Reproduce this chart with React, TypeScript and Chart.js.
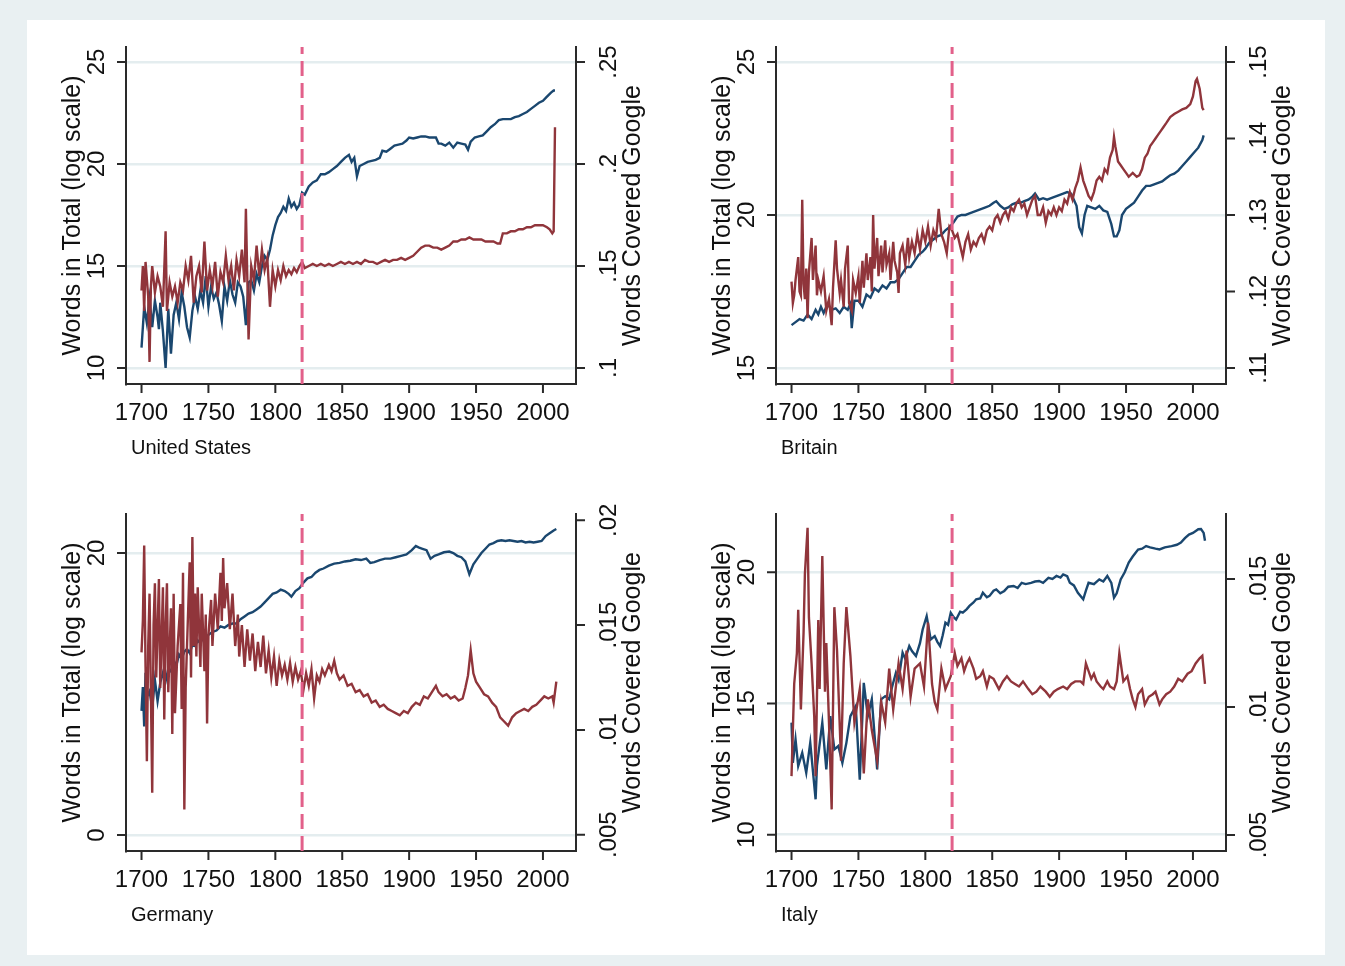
import React, { useEffect, useRef } from "react";
import { Chart, registerables } from "chart.js";

Chart.register(...registerables);

const FONT = '"Liberation Sans", Arial, Helvetica, sans-serif';

// ---------- data (year, value) ----------
const breakYear = 1820;
const xTickYears = [1700, 1750, 1800, 1850, 1900, 1950, 2000];

const usTotal: [number, number][] = [
  [1700, 11.0], [1702, 13.0], [1704, 12.2], [1706, 13.4], [1708, 12.0], [1710, 13.3], [1712, 12.5], [1713, 11.9], [1714, 13.2], [1716, 11.8],
  [1718, 10.0], [1720, 12.9], [1722, 10.7], [1724, 12.6], [1726, 13.2], [1728, 12.4], [1730, 13.7], [1732, 13.0], [1734, 12.0], [1736, 11.5],
  [1738, 12.8], [1740, 13.5], [1742, 12.9], [1744, 13.8], [1746, 13.2], [1748, 14.5], [1750, 13.0], [1752, 14.0], [1754, 13.4], [1756, 13.7],
  [1758, 13.1], [1760, 12.3], [1762, 14.0], [1764, 13.3], [1766, 14.3], [1768, 13.6], [1770, 13.2], [1772, 14.2], [1774, 14.0], [1776, 13.5],
  [1778, 12.1], [1780, 14.2], [1782, 14.3], [1784, 13.8], [1786, 14.6], [1788, 14.2], [1790, 15.0], [1792, 15.5], [1794, 15.3], [1796, 15.8],
  [1798, 16.5], [1800, 17.0], [1802, 17.4], [1804, 17.6], [1806, 17.9], [1808, 17.7], [1810, 18.3], [1812, 17.9], [1814, 18.1], [1816, 17.8],
  [1818, 18.0], [1820, 18.6], [1822, 18.5], [1825, 18.9], [1828, 19.1], [1831, 19.2], [1834, 19.5], [1837, 19.5], [1840, 19.6], [1843, 19.75],
  [1846, 19.9], [1849, 20.1], [1852, 20.3], [1855, 20.45], [1857, 20.1], [1859, 20.3], [1861, 19.4], [1863, 19.9], [1866, 20.0], [1869, 20.1],
  [1872, 20.15], [1875, 20.2], [1878, 20.3], [1880, 20.65], [1883, 20.6], [1886, 20.75], [1889, 20.9], [1892, 20.95], [1895, 21.0], [1898, 21.15],
  [1900, 21.3], [1903, 21.25], [1906, 21.3], [1909, 21.35], [1912, 21.35], [1915, 21.3], [1918, 21.3], [1920, 21.3], [1922, 21.0], [1924, 21.0],
  [1927, 20.9], [1930, 21.05], [1933, 20.8], [1936, 21.05], [1939, 21.0], [1942, 20.95], [1944, 20.7], [1946, 21.1], [1949, 21.3], [1952, 21.35],
  [1955, 21.4], [1958, 21.6], [1961, 21.8], [1964, 21.95], [1967, 22.15], [1970, 22.2], [1973, 22.2], [1976, 22.2], [1979, 22.3], [1982, 22.35],
  [1985, 22.45], [1988, 22.55], [1991, 22.7], [1994, 22.85], [1997, 23.0], [2000, 23.1], [2003, 23.3], [2006, 23.5], [2008, 23.6], [2009, 23.6],
];

const usGoogle: [number, number][] = [
  [1700, .138], [1701, .150], [1702, .128], [1703, .152], [1705, .135], [1706, .103], [1707, .140], [1708, .150], [1710, .137], [1712, .145],
  [1714, .140], [1716, .130], [1718, .167], [1719, .128], [1721, .142], [1723, .135], [1725, .140], [1727, .132], [1729, .142], [1731, .138],
  [1733, .150], [1735, .143], [1737, .155], [1739, .132], [1741, .145], [1743, .150], [1745, .137], [1747, .162], [1749, .138], [1751, .148],
  [1753, .140], [1755, .152], [1757, .135], [1759, .147], [1761, .142], [1763, .155], [1765, .143], [1767, .150], [1769, .138], [1771, .153],
  [1773, .145], [1775, .158], [1777, .142], [1778, .178], [1780, .114], [1782, .150], [1784, .143], [1786, .160], [1788, .145], [1790, .158],
  [1792, .148], [1794, .154], [1796, .130], [1798, .148], [1800, .140], [1802, .148], [1804, .143], [1806, .150], [1808, .145], [1810, .148],
  [1812, .146], [1814, .149], [1816, .147], [1818, .150], [1820, .152], [1822, .149], [1825, .150], [1828, .151], [1831, .150], [1834, .151],
  [1837, .150], [1840, .151], [1843, .150], [1846, .151], [1849, .152], [1852, .151], [1855, .152], [1858, .151], [1861, .152], [1864, .151],
  [1867, .153], [1870, .152], [1873, .152], [1876, .151], [1879, .152], [1882, .153], [1885, .152], [1888, .153], [1891, .153], [1894, .154],
  [1897, .153], [1900, .154], [1903, .155], [1906, .157], [1909, .159], [1912, .160], [1915, .160], [1918, .159], [1921, .159], [1924, .158],
  [1927, .159], [1930, .160], [1933, .162], [1936, .162], [1939, .163], [1942, .163], [1945, .164], [1948, .163], [1951, .163], [1954, .163],
  [1957, .162], [1960, .162], [1963, .162], [1966, .161], [1968, .161], [1970, .166], [1973, .166], [1976, .167], [1979, .167], [1982, .168],
  [1985, .168], [1988, .169], [1991, .169], [1994, .170], [1997, .170], [2000, .170], [2003, .169], [2005, .168], [2007, .166], [2008, .167],
  [2009, .218],
];

const britainTotal: [number, number][] = [
  [1700, 16.4], [1703, 16.5], [1706, 16.6], [1709, 16.55], [1712, 16.75], [1715, 16.6], [1718, 16.9], [1720, 16.75], [1722, 17.0], [1724, 16.8],
  [1727, 17.1], [1730, 16.9], [1733, 16.95], [1736, 16.8], [1739, 17.0], [1742, 16.9], [1744, 17.1], [1745, 16.3], [1747, 17.2], [1750, 17.2],
  [1753, 17.0], [1756, 17.4], [1759, 17.3], [1762, 17.6], [1765, 17.5], [1768, 17.7], [1771, 17.6], [1774, 17.8], [1777, 17.8], [1780, 17.9],
  [1783, 18.1], [1786, 18.3], [1789, 18.3], [1792, 18.5], [1795, 18.7], [1798, 18.8], [1800, 18.9], [1803, 19.1], [1806, 19.2], [1809, 19.3],
  [1812, 19.35], [1815, 19.5], [1818, 19.6], [1821, 19.75], [1824, 19.95], [1827, 20.0], [1830, 20.0], [1833, 20.05], [1836, 20.1], [1839, 20.15],
  [1842, 20.2], [1845, 20.25], [1848, 20.3], [1851, 20.4], [1853, 20.45], [1856, 20.3], [1859, 20.2], [1862, 20.25], [1865, 20.35], [1868, 20.4],
  [1871, 20.4], [1874, 20.45], [1877, 20.5], [1880, 20.6], [1882, 20.7], [1885, 20.5], [1888, 20.55], [1891, 20.5], [1894, 20.55], [1897, 20.6],
  [1900, 20.65], [1903, 20.7], [1906, 20.75], [1909, 20.7], [1911, 20.5], [1913, 20.3], [1915, 19.6], [1917, 19.4], [1919, 20.0], [1921, 20.3],
  [1924, 20.25], [1927, 20.2], [1930, 20.3], [1933, 20.15], [1936, 20.1], [1939, 19.7], [1941, 19.3], [1943, 19.3], [1945, 19.5], [1947, 20.0],
  [1950, 20.2], [1953, 20.3], [1956, 20.4], [1959, 20.6], [1962, 20.8], [1965, 20.95], [1968, 20.95], [1971, 21.0], [1974, 21.05], [1977, 21.1],
  [1980, 21.2], [1983, 21.3], [1986, 21.35], [1989, 21.45], [1992, 21.6], [1995, 21.75], [1998, 21.9], [2001, 22.05], [2004, 22.2], [2007, 22.45],
  [2008, 22.6],
];

const britainGoogle: [number, number][] = [
  [1700, .1213], [1701, .1185], [1702, .1195], [1703, .1215], [1705, .1245], [1706, .1200], [1707, .1195], [1708, .1320], [1709, .1210], [1710, .1190],
  [1711, .1230], [1712, .1165], [1713, .1225], [1715, .1270], [1716, .1215], [1718, .1260], [1719, .1195], [1720, .1215], [1722, .1200], [1724, .1220],
  [1726, .1175], [1728, .1190], [1730, .1156], [1731, .1205], [1733, .1267], [1734, .1230], [1736, .1198], [1737, .1215], [1739, .1180], [1740, .1230],
  [1742, .1260], [1743, .1185], [1745, .1175], [1746, .1215], [1748, .1198], [1750, .1220], [1751, .1185], [1753, .1240], [1754, .1205], [1756, .1250],
  [1757, .1215], [1759, .1245], [1760, .1200], [1761, .1300], [1762, .1230], [1764, .1270], [1765, .1220], [1767, .1260], [1768, .1225], [1770, .1267],
  [1771, .1235], [1773, .1250], [1774, .1215], [1776, .1265], [1777, .1240], [1779, .1225], [1780, .1198], [1781, .1250], [1783, .1260], [1785, .1235],
  [1787, .1270], [1788, .1245], [1790, .1265], [1792, .1250], [1794, .1275], [1796, .1255], [1798, .1280], [1800, .1265], [1802, .1285], [1804, .1260],
  [1806, .1280], [1808, .1270], [1810, .1308], [1812, .1275], [1814, .1265], [1816, .1250], [1818, .1285], [1820, .1280], [1822, .1270], [1824, .1275],
  [1826, .1260], [1828, .1245], [1830, .1265], [1832, .1275], [1834, .1255], [1836, .1265], [1838, .1260], [1840, .1270], [1842, .1275], [1844, .1265],
  [1846, .1280], [1848, .1285], [1850, .1280], [1852, .1295], [1854, .1300], [1856, .1290], [1858, .1300], [1860, .1305], [1862, .1295], [1864, .1310],
  [1866, .1305], [1868, .1315], [1870, .1320], [1872, .1310], [1874, .1315], [1876, .1300], [1878, .1310], [1880, .1320], [1882, .1325], [1884, .1300],
  [1886, .1300], [1888, .1310], [1890, .1290], [1892, .1305], [1894, .1300], [1896, .1310], [1898, .1300], [1900, .1310], [1902, .1305], [1904, .1320],
  [1906, .1315], [1908, .1330], [1910, .1320], [1912, .1335], [1914, .1345], [1916, .1362], [1918, .1345], [1920, .1335], [1922, .1325], [1924, .1320],
  [1926, .1330], [1928, .1345], [1930, .1350], [1932, .1345], [1934, .1360], [1936, .1355], [1938, .1375], [1940, .1385], [1941, .1402], [1942, .1390],
  [1944, .1370], [1946, .1365], [1948, .1360], [1950, .1355], [1952, .1350], [1955, .1355], [1958, .1350], [1960, .1352], [1962, .1360], [1964, .1375],
  [1966, .1380], [1968, .1390], [1970, .1395], [1972, .1400], [1974, .1405], [1976, .1410], [1978, .1415], [1980, .1420], [1983, .1428], [1986, .1432],
  [1989, .1435], [1992, .1438], [1995, .1440], [1998, .1445], [2000, .1455], [2002, .1475], [2003, .1478], [2005, .1465], [2007, .1440], [2008, .1437],
];

const germanyTotal: [number, number][] = [
  [1700, 8.8], [1701, 10.5], [1702, 7.7], [1703, 11.5], [1704, 9.8], [1706, 10.2], [1708, 9.0], [1710, 11.0], [1712, 9.5], [1714, 10.8],
  [1716, 11.5], [1718, 10.9], [1720, 11.8], [1722, 11.6], [1724, 12.4], [1726, 12.0], [1728, 12.8], [1730, 12.5], [1732, 13.0], [1734, 13.2],
  [1736, 12.9], [1738, 13.5], [1740, 13.4], [1742, 13.8], [1744, 13.6], [1746, 14.0], [1748, 13.9], [1750, 14.2], [1753, 14.4], [1756, 14.5],
  [1759, 14.8], [1762, 14.7], [1765, 14.9], [1768, 15.0], [1771, 15.0], [1774, 15.3], [1777, 15.5], [1780, 15.7], [1783, 15.8], [1786, 16.0],
  [1789, 16.2], [1792, 16.5], [1795, 16.8], [1798, 17.1], [1801, 17.2], [1804, 17.4], [1807, 17.3], [1810, 17.1], [1812, 16.9], [1815, 17.3],
  [1818, 17.5], [1821, 17.9], [1824, 18.2], [1827, 18.3], [1830, 18.6], [1833, 18.8], [1836, 18.9], [1840, 19.1], [1844, 19.25], [1848, 19.3],
  [1852, 19.4], [1856, 19.45], [1860, 19.55], [1864, 19.5], [1868, 19.6], [1871, 19.3], [1874, 19.35], [1878, 19.5], [1882, 19.6], [1886, 19.6],
  [1890, 19.7], [1894, 19.8], [1898, 19.9], [1902, 20.2], [1905, 20.5], [1907, 20.4], [1910, 20.3], [1913, 20.2], [1916, 19.6], [1919, 19.8],
  [1922, 19.9], [1926, 20.05], [1930, 20.1], [1933, 20.0], [1936, 19.8], [1939, 19.7], [1942, 19.4], [1945, 18.5], [1948, 19.2], [1951, 19.6],
  [1954, 20.0], [1957, 20.3], [1960, 20.6], [1963, 20.7], [1966, 20.85], [1969, 20.9], [1972, 20.85], [1975, 20.9], [1978, 20.85], [1981, 20.8],
  [1984, 20.85], [1987, 20.75], [1990, 20.8], [1993, 20.75], [1996, 20.8], [1999, 20.85], [2002, 21.2], [2005, 21.4], [2008, 21.6], [2010, 21.7],
];

const germanyGoogle: [number, number][] = [
  [1700, .0137], [1701, .0152], [1702, .0188], [1703, .0130], [1704, .0085], [1705, .0140], [1706, .0165], [1707, .0118], [1708, .0070], [1709, .0150],
  [1710, .0170], [1711, .0125], [1712, .0148], [1713, .0172], [1714, .0120], [1716, .0168], [1717, .0105], [1718, .0150], [1719, .0170], [1720, .0118],
  [1722, .0158], [1723, .0098], [1724, .0165], [1725, .0108], [1727, .0140], [1729, .0160], [1730, .0110], [1731, .0175], [1732, .0062], [1733, .0120],
  [1735, .0160], [1736, .0180], [1737, .0125], [1738, .0192], [1739, .0140], [1740, .0165], [1741, .0135], [1742, .0168], [1744, .0130], [1745, .0165],
  [1747, .0128], [1748, .0155], [1749, .0103], [1750, .0145], [1752, .0162], [1753, .0140], [1755, .0165], [1757, .0148], [1759, .0175], [1760, .0152],
  [1761, .0182], [1762, .0158], [1764, .0170], [1766, .0148], [1768, .0165], [1770, .0140], [1772, .0155], [1773, .0135], [1775, .0150], [1777, .0130],
  [1779, .0148], [1781, .0133], [1783, .0146], [1785, .0128], [1787, .0142], [1789, .0130], [1791, .0145], [1793, .0127], [1795, .0138], [1797, .0125],
  [1799, .0135], [1801, .0121], [1803, .0133], [1805, .0126], [1807, .0131], [1809, .0124], [1811, .0132], [1813, .0123], [1815, .0130], [1817, .0124],
  [1819, .0128], [1821, .0119], [1823, .0127], [1825, .0121], [1827, .0129], [1829, .0115], [1831, .0126], [1833, .0123], [1835, .0129], [1837, .0126],
  [1840, .0131], [1842, .0128], [1844, .0133], [1846, .0127], [1848, .0124], [1851, .0126], [1854, .0121], [1857, .0122], [1860, .0118], [1863, .0119],
  [1866, .0116], [1869, .0117], [1872, .0113], [1875, .0114], [1878, .0111], [1881, .0112], [1884, .0110], [1887, .0109], [1890, .0108], [1893, .0107],
  [1896, .0109], [1899, .0108], [1902, .0111], [1905, .0113], [1908, .0112], [1911, .0116], [1914, .0115], [1917, .0118], [1920, .0121], [1922, .0118],
  [1925, .0116], [1928, .0117], [1931, .0115], [1934, .0116], [1937, .0114], [1940, .0115], [1942, .0120], [1944, .0126], [1946, .0138], [1948, .0127],
  [1950, .0123], [1953, .0120], [1956, .0117], [1959, .0116], [1962, .0113], [1965, .0111], [1968, .0106], [1971, .0104], [1974, .0102], [1977, .0106],
  [1980, .0108], [1983, .0109], [1986, .0110], [1989, .0109], [1992, .0111], [1995, .0112], [1998, .0114], [2001, .0116], [2004, .0115], [2007, .0116],
  [2008, .0113], [2010, .0123],
];

const italyTotal: [number, number][] = [
  [1700, 14.27], [1701, 12.74], [1703, 13.63], [1705, 12.62], [1708, 13.12], [1711, 12.36], [1714, 13.5], [1718, 11.35], [1719, 12.62], [1723, 14.27],
  [1726, 12.49], [1729, 14.52], [1732, 13.25], [1735, 13.38], [1738, 12.74], [1741, 13.5], [1744, 14.52], [1748, 14.9], [1751, 12.1], [1754, 15.79],
  [1757, 14.52], [1760, 15.16], [1764, 12.49], [1767, 15.16], [1770, 15.28], [1773, 15.16], [1775, 15.6], [1778, 16.17], [1780, 15.9], [1783, 16.94],
  [1785, 16.7], [1788, 17.19], [1790, 17.0], [1793, 16.81], [1796, 17.3], [1798, 17.82], [1801, 18.33], [1804, 17.44], [1807, 17.57], [1809, 17.35],
  [1811, 17.19], [1813, 17.6], [1815, 18.08], [1817, 18.0], [1819, 18.46], [1821, 18.3], [1823, 18.2], [1826, 18.5], [1828, 18.46], [1831, 18.6],
  [1833, 18.72], [1836, 18.85], [1838, 18.97], [1841, 19.0], [1843, 19.22], [1846, 19.05], [1848, 19.1], [1851, 19.3], [1853, 19.35], [1856, 19.2],
  [1859, 19.29], [1862, 19.45], [1866, 19.48], [1869, 19.4], [1872, 19.6], [1875, 19.55], [1879, 19.6], [1882, 19.65], [1885, 19.67], [1888, 19.6],
  [1892, 19.79], [1895, 19.75], [1898, 19.86], [1901, 19.8], [1903, 19.92], [1906, 19.85], [1908, 19.6], [1911, 19.5], [1914, 19.22], [1918, 18.97],
  [1920, 19.3], [1922, 19.6], [1926, 19.55], [1930, 19.73], [1933, 19.65], [1936, 19.86], [1939, 19.6], [1941, 19.03], [1943, 19.2], [1946, 19.73],
  [1949, 20.0], [1952, 20.37], [1955, 20.6], [1959, 20.87], [1962, 20.9], [1965, 21.0], [1968, 20.95], [1972, 20.9], [1975, 20.87], [1979, 20.95],
  [1984, 21.0], [1988, 21.05], [1991, 21.13], [1994, 21.3], [1997, 21.44], [2000, 21.5], [2004, 21.64], [2006, 21.65], [2008, 21.5], [2009, 21.2],
];

const italyGoogle: [number, number][] = [
  [1700, .0073], [1702, .0109], [1704, .0121], [1705, .0138], [1707, .0099], [1709, .0129], [1710, .0152], [1712, .0170], [1713, .0135], [1715, .0117],
  [1717, .0096], [1718, .0073], [1720, .0134], [1721, .0107], [1723, .0159], [1725, .0106], [1726, .0125], [1728, .0094], [1730, .0060], [1732, .0139],
  [1734, .0122], [1737, .0079], [1739, .0117], [1741, .0139], [1744, .0120], [1747, .0094], [1751, .0107], [1754, .0074], [1757, .0103], [1760, .0091],
  [1764, .0079], [1767, .0102], [1770, .0094], [1773, .0115], [1776, .0099], [1780, .0117], [1783, .0107], [1786, .0122], [1789, .0104], [1792, .0115],
  [1796, .0117], [1799, .0108], [1802, .0133], [1805, .0109], [1807, .0102], [1809, .0099], [1812, .0115], [1815, .0107], [1819, .0112], [1822, .0121],
  [1824, .0116], [1827, .0119], [1829, .0114], [1831, .0117], [1833, .0119], [1836, .0115], [1838, .0111], [1841, .0112], [1843, .0114], [1846, .0108],
  [1848, .0112], [1851, .0111], [1855, .0107], [1858, .0110], [1861, .0112], [1864, .0110], [1867, .0109], [1870, .0108], [1873, .0110], [1877, .0107],
  [1880, .0105], [1883, .0106], [1886, .0108], [1890, .0106], [1893, .0104], [1896, .0106], [1899, .0107], [1903, .0108], [1906, .0107], [1909, .0109],
  [1912, .0110], [1916, .0110], [1918, .0109], [1920, .0117], [1924, .0111], [1926, .0113], [1928, .0110], [1931, .0108], [1933, .0107], [1936, .0110],
  [1938, .0108], [1941, .0107], [1943, .0110], [1945, .0121], [1948, .0110], [1951, .0112], [1953, .0107], [1955, .0103], [1957, .0100], [1959, .0105],
  [1962, .0107], [1964, .0101], [1967, .0104], [1970, .0105], [1972, .0106], [1975, .0101], [1977, .0103], [1980, .0105], [1983, .0106], [1986, .0108],
  [1989, .0111], [1992, .0110], [1996, .0113], [1999, .0114], [2002, .0117], [2005, .0119], [2007, .0120], [2009, .0109],
];

// axis ticks
const usLeftTicks = [10, 15, 20, 25];
const usRightTicks = [0.1, 0.15, 0.2, 0.25];
const britainLeftTicks = [15, 20, 25];
const britainRightTicks = [0.11, 0.12, 0.13, 0.14, 0.15];
const germanyLeftTicks = [0, 20];
const germanyRightTicks = [0.005, 0.01, 0.015, 0.02];
const italyLeftTicks = [10, 15, 20];
const italyRightTicks = [0.005, 0.01, 0.015];

// ---------- layout / style ----------
const PAGE_BG = "#e9f0f2";
const BLUE = "#1a476f";
const RED = "#90353b";
const DASH = "#e2608a";
const GRID = "#e4edef";
const AXIS = "#2a2a2a";
const TEXT = "#111111";
const LINE_W = 2.4;

const X_MIN = 1688.4;
const X_MAX = 2024.7;
const PLOT_W = 450;
const PLOT_H = 337;
const PAD = { left: 100, top: 20, right: 90, bottom: 80 };

type PanelDef = {
  caption: string;
  plotLeft: number;
  plotTop: number;
  total: [number, number][];
  google: [number, number][];
  leftRange: [number, number];
  rightRange: [number, number];
  leftTicks: number[];
  rightTicks: number[];
};

const panels: PanelDef[] = [
  { caption: "United States", plotLeft: 126, plotTop: 47, total: usTotal, google: usGoogle,
    leftRange: [9.216, 25.735], rightRange: [0.09216, 0.25735], leftTicks: usLeftTicks, rightTicks: usRightTicks },
  { caption: "Britain", plotLeft: 775.5, plotTop: 47, total: britainTotal, google: britainGoogle,
    leftRange: [14.477, 25.49], rightRange: [0.10791, 0.15196], leftTicks: britainLeftTicks, rightTicks: britainRightTicks },
  { caption: "Germany", plotLeft: 126, plotTop: 514, total: germanyTotal, google: germanyGoogle,
    leftRange: [-1.135, 22.766], rightRange: [0.004222, 0.0203], leftTicks: germanyLeftTicks, rightTicks: germanyRightTicks },
  { caption: "Italy", plotLeft: 775.5, plotTop: 514, total: italyTotal, google: italyGoogle,
    leftRange: [9.379, 22.222], rightRange: [0.004375, 0.017539], leftTicks: italyLeftTicks, rightTicks: italyRightTicks },
];

const fmtRight = (v: number) => String(v).replace(/^0\./, ".");

function rotText(ctx: CanvasRenderingContext2D, text: string, x: number, y: number) {
  ctx.save();
  ctx.translate(x, y);
  ctx.rotate(-Math.PI / 2);
  ctx.textAlign = "center";
  ctx.textBaseline = "alphabetic";
  ctx.fillText(text, 0, 0);
  ctx.restore();
}

function makeAxisPlugin(p: PanelDef) {
  return {
    id: "stataAxes",
    afterDraw(chart: any) {
      const { ctx, chartArea, scales } = chart;
      const { left, right, top, bottom } = chartArea;
      const xs = scales.x, ys = scales.y, ys1 = scales.y1;
      const mid = (top + bottom) / 2;
      ctx.save();
      ctx.strokeStyle = AXIS;
      ctx.lineWidth = 2;
      ctx.beginPath();
      p.leftTicks.forEach((v) => {
        const y = ys.getPixelForValue(v);
        ctx.moveTo(left - 9, y); ctx.lineTo(left, y);
      });
      p.rightTicks.forEach((v) => {
        const y = ys1.getPixelForValue(v);
        ctx.moveTo(right, y); ctx.lineTo(right + 9, y);
      });
      xTickYears.forEach((yr) => {
        const x = xs.getPixelForValue(yr);
        ctx.moveTo(x, bottom); ctx.lineTo(x, bottom + 9);
      });
      ctx.stroke();

      ctx.fillStyle = TEXT;
      ctx.font = `24px ${FONT}`;
      p.leftTicks.forEach((v) => rotText(ctx, String(v), left - 22.5, ys.getPixelForValue(v)));
      p.rightTicks.forEach((v) => rotText(ctx, fmtRight(v), right + 39.5, ys1.getPixelForValue(v)));
      ctx.textAlign = "center";
      ctx.textBaseline = "alphabetic";
      xTickYears.forEach((yr) => ctx.fillText(String(yr), xs.getPixelForValue(yr), bottom + 36));

      ctx.font = `25px ${FONT}`;
      rotText(ctx, "Words in Total (log scale)", left - 46.5, mid);
      rotText(ctx, "Words Covered Google", right + 64, mid);

      ctx.font = `20px ${FONT}`;
      ctx.textAlign = "left";
      ctx.fillText(p.caption, left + 5, bottom + 70);
      ctx.restore();
    },
  };
}

function Panel({ p }: { p: PanelDef }) {
  const ref = useRef<HTMLCanvasElement>(null);
  const w = PAD.left + PLOT_W + PAD.right;
  const h = PAD.top + PLOT_H + PAD.bottom;

  useEffect(() => {
    if (!ref.current) return;
    const toXY = (arr: [number, number][]) => arr.map(([x, y]) => ({ x, y }));
    const chart = new Chart(ref.current, {
      type: "line",
      data: {
        datasets: [
          {
            label: "break",
            data: [{ x: breakYear, y: p.leftRange[0] }, { x: breakYear, y: p.leftRange[1] }],
            yAxisID: "y",
            borderColor: DASH,
            borderWidth: 3,
            borderDash: [15, 7],
            pointRadius: 0,
            order: 0,
          },
          {
            label: "Words Covered Google",
            data: toXY(p.google),
            yAxisID: "y1",
            borderColor: RED,
            borderWidth: LINE_W,
            pointRadius: 0,
            tension: 0,
            order: 1,
          },
          {
            label: "Words in Total (log scale)",
            data: toXY(p.total),
            yAxisID: "y",
            borderColor: BLUE,
            borderWidth: LINE_W,
            pointRadius: 0,
            tension: 0,
            order: 2,
          },
        ],
      },
      options: {
        responsive: false,
        animation: false,
        events: [],
        layout: { padding: PAD },
        plugins: { legend: { display: false }, tooltip: { enabled: false }, title: { display: false } },
        scales: {
          x: {
            type: "linear",
            min: X_MIN,
            max: X_MAX,
            ticks: { display: false },
            grid: { display: false, drawTicks: false },
            border: { display: true, color: AXIS, width: 2 },
            afterFit: (s: any) => { s.height = 0; },
          },
          y: {
            type: "linear",
            position: "left",
            min: p.leftRange[0],
            max: p.leftRange[1],
            afterBuildTicks: (s: any) => { s.ticks = p.leftTicks.map((v) => ({ value: v })); },
            ticks: { display: false },
            grid: { display: true, color: GRID, lineWidth: 2.5, drawTicks: false },
            border: { display: true, color: AXIS, width: 2 },
            afterFit: (s: any) => { s.width = 0; },
          },
          y1: {
            type: "linear",
            position: "right",
            min: p.rightRange[0],
            max: p.rightRange[1],
            afterBuildTicks: (s: any) => { s.ticks = p.rightTicks.map((v) => ({ value: v })); },
            ticks: { display: false },
            grid: { display: false, drawTicks: false },
            border: { display: true, color: AXIS, width: 2 },
            afterFit: (s: any) => { s.width = 0; },
          },
        },
      },
      plugins: [makeAxisPlugin(p)],
    } as any);
    return () => chart.destroy();
  }, []);

  return (
    <canvas
      ref={ref}
      width={w}
      height={h}
      style={{ position: "absolute", left: p.plotLeft - PAD.left, top: p.plotTop - PAD.top, width: w, height: h }}
    />
  );
}

export default function App() {
  return (
    <div style={{ position: "absolute", left: 0, top: 0, width: 1345, height: 966, background: PAGE_BG, overflow: "hidden", fontFamily: FONT }}>
      <div style={{ position: "absolute", left: 27, top: 20, width: 1298, height: 935, background: "#ffffff" }} />
      {panels.map((p) => (
        <Panel key={p.caption} p={p} />
      ))}
    </div>
  );
}
